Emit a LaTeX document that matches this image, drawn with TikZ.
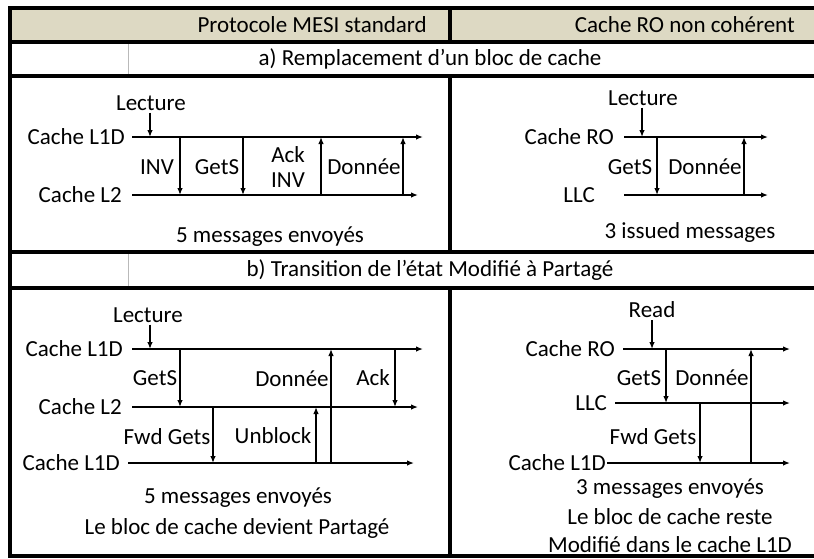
\documentclass[tikz,border=0pt]{standalone}
\usepackage{fontspec}
\setmainfont{Carlito}
\usetikzlibrary{arrows.meta}
\definecolor{hdr}{HTML}{DDD9C3}
\begin{document}
\begin{tikzpicture}[x=1pt,y=-1pt,
  txt/.style={font=\fontsize{23}{25}\selectfont, inner sep=0pt},
  tl/.style={line width=1.3pt,-{Latex[length=7pt,width=5.5pt]}},
  msg/.style={line width=1.3pt,-{Latex[length=7pt,width=5.5pt]}},
  frame/.style={line width=3.2pt},
  grid/.style={line width=0.6pt, draw=gray!55}]
\clip (0,0) rectangle (814,558);
\fill[white] (0,0) rectangle (814,558);
% ---------- table ----------
\fill[hdr] (10,8) rectangle (820,42);
\draw[grid] (128,42) -- (128,76);
\draw[grid] (128,252) -- (128,288);
\draw[frame] (10,8) rectangle (820,556);
\draw[frame] (10,42) -- (820,42);
\draw[frame] (10,76) -- (820,76);
\draw[frame] (10,252) -- (820,252);
\draw[frame] (10,288) -- (820,288);
\draw[frame] (450,8) -- (450,42);
\draw[frame] (450,76) -- (450,252);
\draw[frame] (450,288) -- (450,556);
\node[txt,anchor=east] (h1) at (427,25) {Protocole MESI standard};
\node[txt,anchor=east] (h2) at (795,25) {Cache RO non cohérent};
\node[txt] (ta) at (430,59) {a) Remplacement d’un bloc de cache};
\node[txt] (tb) at (430,270) {b) Transition de l’état Modifié à Partagé};

% ---------- a) left ----------
\node[txt,anchor=east] (aLa) at (125,137) {Cache L1D};
\node[txt,anchor=east] (aLb) at (122,195) {Cache L2};
\coordinate (aAs) at (132,137); \coordinate (aAe) at (423,137);
\coordinate (aBs) at (132,195); \coordinate (aBe) at (418,195);
\draw[tl] (aAs) -- (aAe);
\draw[tl] (aBs) -- (aBe);
\node[txt] (aRd) at (151,103) {Lecture};
\coordinate (aRdE) at (150,137);
\draw[msg] ([xshift=-1pt,yshift=-2pt]aRd.south) -- (aRdE);
\coordinate (a1t) at (180,137); \coordinate (a1b) at (180,195);
\draw[msg] (a1t) -- (a1b);
\node[txt] (a1l) at (157,167) {INV};
\coordinate (a2t) at (243,137); \coordinate (a2b) at (243,195);
\draw[msg] (a2t) -- (a2b);
\node[txt] (a2l) at (217,167) {GetS};
\coordinate (a3t) at (321,137); \coordinate (a3b) at (321,195);
\draw[msg] (a3b) -- (a3t);
\node[txt,align=center] (a3l) at (288,167) {Ack\\INV};
\coordinate (a4t) at (403,137); \coordinate (a4b) at (403,195);
\draw[msg] (a4b) -- (a4t);
\node[txt] (a4l) at (364,167) {Donnée};
\node[txt] (aSum) at (270,237) {5 messages envoyés};

% ---------- a) right ----------
\node[txt,anchor=east] (cLa) at (614,137) {Cache RO};
\node[txt,anchor=east] (cLb) at (595,195) {LLC};
\coordinate (cAs) at (624,137); \coordinate (cAe) at (768,137);
\coordinate (cBs) at (624,195); \coordinate (cBe) at (768,195);
\draw[tl] (cAs) -- (cAe);
\draw[tl] (cBs) -- (cBe);
\node[txt] (cRd) at (643,98) {Lecture};
\coordinate (cRdE) at (642,137);
\draw[msg] ([xshift=-1pt,yshift=-2pt]cRd.south) -- (cRdE);
\coordinate (c1t) at (657,137); \coordinate (c1b) at (657,195);
\draw[msg] (c1t) -- (c1b);
\node[txt] (c1l) at (630,167) {GetS};
\coordinate (c2t) at (744,137); \coordinate (c2b) at (744,195);
\draw[msg] (c2b) -- (c2t);
\node[txt] (c2l) at (705,167) {Donnée};
\node[txt] (cSum) at (690,232) {3 issued messages};

% ---------- b) left ----------
\node[txt,anchor=east] (bLa) at (123,349) {Cache L1D};
\node[txt,anchor=east] (bLb) at (122,407) {Cache L2};
\node[txt,anchor=east] (bLc) at (120,463) {Cache L1D};
\coordinate (bAs) at (132,349); \coordinate (bAe) at (423,349);
\coordinate (bBs) at (132,407); \coordinate (bBe) at (418,407);
\coordinate (bCs) at (128,463); \coordinate (bCe) at (414,463);
\draw[tl] (bAs) -- (bAe);
\draw[tl] (bBs) -- (bBe);
\draw[tl] (bCs) -- (bCe);
\node[txt] (bRd) at (148,315) {Lecture};
\coordinate (bRdE) at (150,349);
\draw[msg] ([xshift=2pt,yshift=-2pt]bRd.south) -- (bRdE);
\coordinate (b1t) at (180,349); \coordinate (b1b) at (180,407);
\draw[msg] (b1t) -- (b1b);
\node[txt] (b1l) at (155,378) {GetS};
\coordinate (b2t) at (213,407); \coordinate (b2b) at (213,463);
\draw[msg] (b2t) -- (b2b);
\node[txt] (b2l) at (167,437) {Fwd Gets};
\coordinate (b3t) at (316,407); \coordinate (b3b) at (316,463);
\draw[msg] (b3b) -- (b3t);
\node[txt] (b3l) at (273,436) {Unblock};
\coordinate (b4t) at (331,349); \coordinate (b4b) at (331,463);
\draw[msg] (b4b) -- (b4t);
\node[txt] (b4l) at (292,379) {Donnée};
\coordinate (b5t) at (395,349); \coordinate (b5b) at (395,407);
\draw[msg] (b5t) -- (b5b);
\node[txt] (b5l) at (373,378) {Ack};
\node[txt] (bSum) at (238,498) {5 messages envoyés};
\node[txt] (bSum2) at (237,528) {Le bloc de cache devient Partagé};

% ---------- b) right ----------
\node[txt,anchor=east] (dLa) at (615,349) {Cache RO};
\node[txt,anchor=east] (dLb) at (607,403) {LLC};
\node[txt,anchor=east] (dLc) at (606,463) {Cache L1D};
\coordinate (dAs) at (623,349); \coordinate (dAe) at (790,349);
\coordinate (dBs) at (615,403); \coordinate (dBe) at (790,403);
\coordinate (dCs) at (607,463); \coordinate (dCe) at (790,463);
\draw[tl] (dAs) -- (dAe);
\draw[tl] (dBs) -- (dBe);
\draw[tl] (dCs) -- (dCe);
\node[txt] (dRd) at (652,310) {Read};
\coordinate (dRdE) at (652,349);
\draw[msg] ([yshift=-2pt]dRd.south) -- (dRdE);
\coordinate (d1t) at (666,349); \coordinate (d1b) at (666,403);
\draw[msg] (d1t) -- (d1b);
\node[txt] (d1l) at (639,378) {GetS};
\coordinate (d2t) at (751,349); \coordinate (d2b) at (751,463);
\draw[msg] (d2b) -- (d2t);
\node[txt] (d2l) at (712,378) {Donnée};
\coordinate (d3t) at (700,403); \coordinate (d3b) at (700,463);
\draw[msg] (d3t) -- (d3b);
\node[txt] (d3l) at (653,437) {Fwd Gets};
\node[txt] (dSum) at (670,489) {3 messages envoyés};
\node[txt] (dSum2) at (670,517) {Le bloc de cache reste};
\node[txt] (dSum3) at (670,545) {Modifié dans le cache L1D};
\end{tikzpicture}
\end{document}
